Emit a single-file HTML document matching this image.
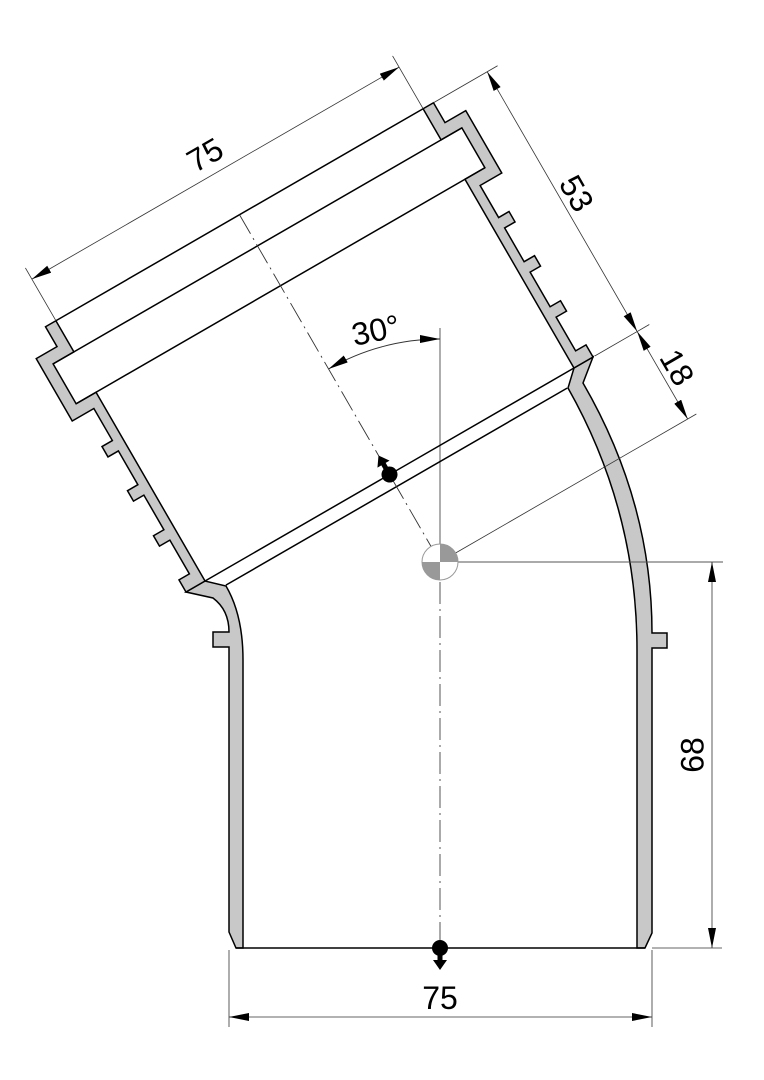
<!DOCTYPE html>
<html><head><meta charset="utf-8"><style>
html,body{margin:0;padding:0;background:#fff;}
svg{display:block;}
text{font-family:"Liberation Sans",sans-serif;fill:#000;}
</style></head><body>
<svg width="764" height="1080" viewBox="0 0 764 1080" xmlns="http://www.w3.org/2000/svg">
<defs>
<marker id="a" viewBox="0 0 20 8" refX="20" refY="4" markerWidth="20" markerHeight="8" markerUnits="userSpaceOnUse" orient="auto-start-reverse">
<path d="M0,0 L20,4 L0,8 Z" fill="#000"/>
</marker>
</defs>

<g fill="#c8c8c8" stroke="#000" stroke-width="1.5" stroke-linejoin="miter">
<path d="M205,581 L186,592 L213,598 Q229,610 229,632 L213,632 L213,647 L229,647 L229,932 L236,948 L243,948 L243,660 Q243,615 226,586 Z"/>
<path d="M574,368 L593,357 L583,383 Q652,502 652,633 L667,633 L667,648 L652,648 L652,933 L645,948 L637,948 L637,650 Q637,510 568,388 Z"/>
</g>
<line x1="236" y1="948" x2="645" y2="948" stroke="#000" stroke-width="1.5"/>

<line x1="440" y1="328" x2="440" y2="544" stroke="#777" stroke-width="1.2"/>
<line x1="440" y1="582" x2="440" y2="940" stroke="#555" stroke-width="1" stroke-dasharray="22,5,2,5"/>
<line x1="458" y1="562" x2="723" y2="562" stroke="#555" stroke-width="0.9"/>

<g transform="translate(440,562) rotate(-30)">
<g fill="#c8c8c8" stroke="#000" stroke-width="1.5">
<path d="M213,-101 L213,-319 L236,-319 L236,-365 L212,-365 L212,-401 L224,-401 L224,-378 L248,-378 L248,-306 L223,-306 L223,-269 L235,-269 L235,-257 L223,-257 L223,-218 L235,-218 L235,-206 L223,-206 L223,-166 L235,-166 L235,-154 L223,-154 L223,-115 L235,-115 L235,-101 Z"/>
<path transform="scale(-1,1)" d="M213,-101 L213,-319 L236,-319 L236,-365 L212,-365 L212,-401 L224,-401 L224,-378 L248,-378 L248,-306 L223,-306 L223,-269 L235,-269 L235,-257 L223,-257 L223,-218 L235,-218 L235,-206 L223,-206 L223,-166 L235,-166 L235,-154 L223,-154 L223,-115 L235,-115 L235,-101 Z"/>
</g>
<g stroke="#000" stroke-width="1.5">
<line x1="-212" y1="-401" x2="212" y2="-401"/>
<line x1="-236" y1="-365" x2="236" y2="-365"/>
<line x1="-236" y1="-319" x2="236" y2="-319"/>
<line x1="-213" y1="-101" x2="213" y2="-101"/>
<line x1="-197" y1="-87" x2="197" y2="-87"/>
</g>
<line x1="0" y1="-401" x2="0" y2="-18" stroke="#333" stroke-width="0.9" stroke-dasharray="22,5,2,5"/>
<circle cx="0" cy="-101" r="8" fill="#000"/>
<path d="M-2.5,-106 L-2.5,-113 L-7,-113 L0,-123 L7,-113 L2.5,-113 L2.5,-106 Z" fill="#000"/>
<g stroke="#333" stroke-width="0.8">
<line x1="-212" y1="-401" x2="-212" y2="-462"/>
<line x1="212" y1="-401" x2="212" y2="-462"/>
<line x1="-212" y1="-449" x2="212" y2="-449" marker-start="url(#a)" marker-end="url(#a)"/>
<line x1="224" y1="-401" x2="298" y2="-401"/>
<line x1="237" y1="-101" x2="300" y2="-101"/>
<line x1="18" y1="0" x2="296" y2="0"/>
<line x1="286" y1="-401" x2="286" y2="-101" marker-start="url(#a)" marker-end="url(#a)"/>
<line x1="286" y1="-101" x2="286" y2="0" marker-start="url(#a)" marker-end="url(#a)"/>
</g>
<text x="0" y="-459" font-size="32" text-anchor="middle">75</text>
<text transform="translate(300,-251) rotate(90)" font-size="32" text-anchor="middle" dominant-baseline="middle">53</text>
<text transform="translate(300,-50) rotate(90)" font-size="32" text-anchor="middle" dominant-baseline="middle">18</text>
</g>

<g>
<circle cx="440" cy="562" r="18" fill="#fff" stroke="#999" stroke-width="1"/>
<path d="M440,562 L440,544 A18,18 0 0 1 458,562 Z" fill="#999"/>
<path d="M440,562 L440,580 A18,18 0 0 1 422,562 Z" fill="#999"/>
</g>

<path d="M440,339 A223,223 0 0 0 328.5,369" fill="none" stroke="#333" stroke-width="0.9" marker-start="url(#a)" marker-end="url(#a)"/>
<text transform="translate(378,341) rotate(-12)" font-size="32" text-anchor="middle">30°</text>

<circle cx="440" cy="948" r="8" fill="#000"/>
<path d="M437.5,953 L437.5,960 L433,960 L440,970 L447,960 L442.5,960 L442.5,953 Z" fill="#000"/>

<g stroke="#333" stroke-width="0.8">
<line x1="652" y1="948" x2="722" y2="948"/>
<line x1="712" y1="562" x2="712" y2="948" marker-start="url(#a)" marker-end="url(#a)"/>
<line x1="229" y1="950" x2="229" y2="1027"/>
<line x1="652" y1="950" x2="652" y2="1027"/>
<line x1="229" y1="1017" x2="652" y2="1017" marker-start="url(#a)" marker-end="url(#a)"/>
</g>
<text transform="translate(695,755) rotate(-90)" font-size="32" text-anchor="middle" dominant-baseline="middle">68</text>
<text x="440" y="1009" font-size="32" text-anchor="middle">75</text>
</svg>
</body></html>
